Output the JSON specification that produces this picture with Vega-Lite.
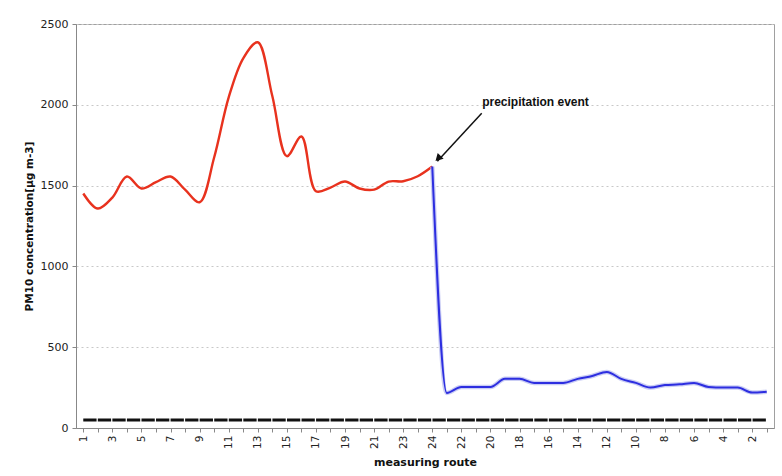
{
  "$schema": "https://vega.github.io/schema/vega-lite/v6.json",
  "width": 698,
  "height": 404,
  "autosize": {"type": "none"},
  "padding": {"left": 76, "top": 24, "right": 8, "bottom": 48},
  "background": "white",
  "config": {
    "view": {"stroke": "#a0a0a0", "strokeWidth": 1},
    "font": "DejaVu Sans",
    "axis": {
      "domainColor": "#888888",
      "tickColor": "#888888",
      "labelColor": "#222222",
      "titleColor": "#111111",
      "labelFont": "DejaVu Sans",
      "titleFont": "DejaVu Sans",
      "labelFontSize": 11,
      "titleFontSize": 10.5,
      "titleFontWeight": "bold"
    },
    "axisX": {"labelOverlap": false}
  },
  "datasets": {
    "outbound": [
      {"i": 0, "pm10": 1451}, {"i": 1, "pm10": 1358}, {"i": 2, "pm10": 1426}, {"i": 3, "pm10": 1556},
      {"i": 4, "pm10": 1482}, {"i": 5, "pm10": 1521}, {"i": 6, "pm10": 1556}, {"i": 7, "pm10": 1475},
      {"i": 8, "pm10": 1397}, {"i": 9, "pm10": 1674}, {"i": 10, "pm10": 2046}, {"i": 11, "pm10": 2288},
      {"i": 12, "pm10": 2387}, {"i": 13, "pm10": 2054}, {"i": 14, "pm10": 1682}, {"i": 15, "pm10": 1804},
      {"i": 16, "pm10": 1465}, {"i": 17, "pm10": 1488}, {"i": 18, "pm10": 1525}, {"i": 19, "pm10": 1482},
      {"i": 20, "pm10": 1475}, {"i": 21, "pm10": 1525}, {"i": 22, "pm10": 1527}, {"i": 23, "pm10": 1558},
      {"i": 24, "pm10": 1618}
    ],
    "back": [
      {"i": 24, "pm10": 1618}, {"i": 25, "pm10": 217}, {"i": 26, "pm10": 254}, {"i": 27, "pm10": 254},
      {"i": 28, "pm10": 254}, {"i": 29, "pm10": 304}, {"i": 30, "pm10": 304}, {"i": 31, "pm10": 279},
      {"i": 32, "pm10": 279}, {"i": 33, "pm10": 279}, {"i": 34, "pm10": 304}, {"i": 35, "pm10": 322},
      {"i": 36, "pm10": 347}, {"i": 37, "pm10": 304}, {"i": 38, "pm10": 279}, {"i": 39, "pm10": 250},
      {"i": 40, "pm10": 266}, {"i": 41, "pm10": 270}, {"i": 42, "pm10": 279}, {"i": 43, "pm10": 254},
      {"i": 44, "pm10": 250}, {"i": 45, "pm10": 250}, {"i": 46, "pm10": 219}, {"i": 47, "pm10": 225}
    ],
    "limit": [
      {"i": 0, "pm10": 50}, {"i": 1, "pm10": 50}, {"i": 2, "pm10": 50}, {"i": 3, "pm10": 50},
      {"i": 4, "pm10": 50}, {"i": 5, "pm10": 50}, {"i": 6, "pm10": 50}, {"i": 7, "pm10": 50},
      {"i": 8, "pm10": 50}, {"i": 9, "pm10": 50}, {"i": 10, "pm10": 50}, {"i": 11, "pm10": 50},
      {"i": 12, "pm10": 50}, {"i": 13, "pm10": 50}, {"i": 14, "pm10": 50}, {"i": 15, "pm10": 50},
      {"i": 16, "pm10": 50}, {"i": 17, "pm10": 50}, {"i": 18, "pm10": 50}, {"i": 19, "pm10": 50},
      {"i": 20, "pm10": 50}, {"i": 21, "pm10": 50}, {"i": 22, "pm10": 50}, {"i": 23, "pm10": 50},
      {"i": 24, "pm10": 50}, {"i": 25, "pm10": 50}, {"i": 26, "pm10": 50}, {"i": 27, "pm10": 50},
      {"i": 28, "pm10": 50}, {"i": 29, "pm10": 50}, {"i": 30, "pm10": 50}, {"i": 31, "pm10": 50},
      {"i": 32, "pm10": 50}, {"i": 33, "pm10": 50}, {"i": 34, "pm10": 50}, {"i": 35, "pm10": 50},
      {"i": 36, "pm10": 50}, {"i": 37, "pm10": 50}, {"i": 38, "pm10": 50}, {"i": 39, "pm10": 50},
      {"i": 40, "pm10": 50}, {"i": 41, "pm10": 50}, {"i": 42, "pm10": 50}, {"i": 43, "pm10": 50},
      {"i": 44, "pm10": 50}, {"i": 45, "pm10": 50}, {"i": 46, "pm10": 50}, {"i": 47, "pm10": 50}
    ],
    "arrow": [{"i": 27.4, "pm10": 1947, "i2": 24.35, "pm102": 1650}],
    "head": [{"i": 24.4, "pm10": 1668}],
    "note": [{"i": 31.1, "pm10": 2015, "label": "precipitation event"}]
  },
  "encoding": {
    "x": {
      "field": "i",
      "type": "quantitative",
      "scale": {"domain": [-0.5, 47.5], "nice": false, "zero": false},
      "axis": {
        "values": [0,1,2,3,4,5,6,7,8,9,10,11,12,13,14,15,16,17,18,19,20,21,22,23,24,25,26,27,28,29,30,31,32,33,34,35,36,37,38,39,40,41,42,43,44,45,46,47],
        "labelExpr": "datum.value % 2 == 0 ? (datum.value < 24 ? '' + (datum.value + 1) : '' + (48 - datum.value)) : ''",
        "labelAngle": -90,
        "labelAlign": "right",
        "labelBaseline": "middle",
        "labelFontSize": 10.5,
        "labelPadding": 3,
        "labelOverlap": false,
        "labelFlush": false,
        "labelBound": false,
        "tickSize": 4,
        "grid": false,
        "title": "measuring route",
        "titleFontSize": 11,
        "titlePadding": 8
      }
    },
    "y": {
      "field": "pm10",
      "type": "quantitative",
      "scale": {"domain": [0, 2500], "nice": false},
      "axis": {
        "values": [0, 500, 1000, 1500, 2000, 2500],
        "format": "d",
        "labelFlush": false,
        "grid": true,
        "gridColor": "#c8c8c8",
        "gridDash": [2, 3],
        "tickSize": 4,
        "labelPadding": 4,
        "title": "PM10 concentration[µg m-3]",
        "titlePadding": 6
      }
    }
  },
  "layer": [
    {
      "data": {"name": "limit"},
      "mark": {"type": "line", "color": "#111111", "strokeWidth": 3, "strokeDash": [13.3, 1.25]}
    },
    {
      "data": {"name": "outbound"},
      "mark": {"type": "line", "color": "#e8321e", "strokeWidth": 2.4, "interpolate": "catmull-rom"}
    },
    {
      "data": {"name": "back"},
      "mark": {"type": "line", "color": "#b4b8f0", "strokeWidth": 4.5, "opacity": 0.7, "interpolate": "monotone"}
    },
    {
      "data": {"name": "back"},
      "mark": {"type": "line", "color": "#2d2ee0", "strokeWidth": 2, "interpolate": "monotone"}
    },
    {
      "data": {"name": "arrow"},
      "mark": {"type": "rule", "color": "#111111", "strokeWidth": 1.5},
      "encoding": {
        "x2": {"field": "i2"},
        "y2": {"field": "pm102"}
      }
    },
    {
      "data": {"name": "head"},
      "mark": {"type": "point", "shape": "triangle-up", "filled": true, "color": "#111111", "size": 70, "opacity": 1, "angle": 225}
    },
    {
      "data": {"name": "note"},
      "mark": {"type": "text", "font": "Liberation Sans", "fontWeight": "bold", "fontSize": 12, "color": "#111111", "align": "center", "baseline": "middle"},
      "encoding": {
        "text": {"field": "label"}
      }
    }
  ]
}
